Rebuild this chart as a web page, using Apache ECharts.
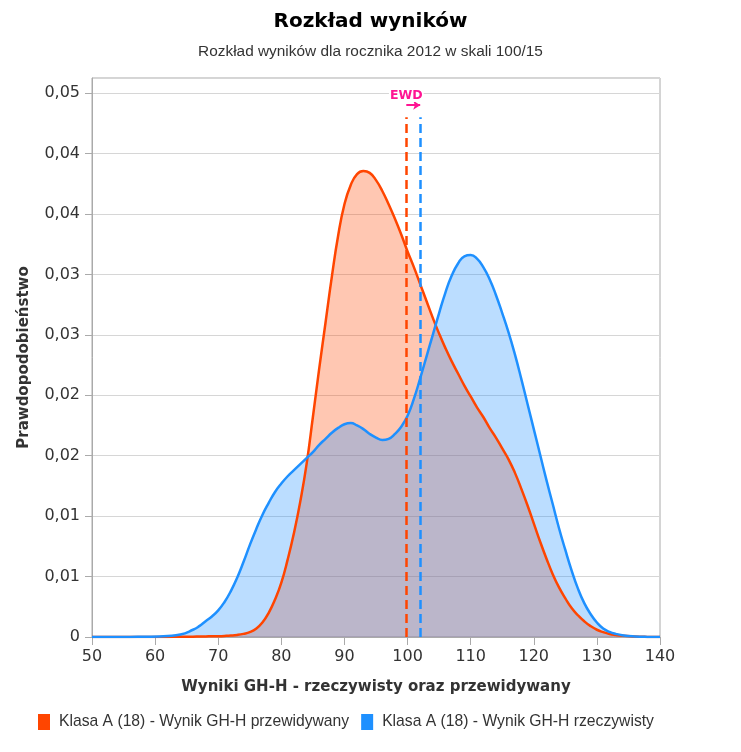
<!DOCTYPE html>
<html>
<head>
<meta charset="utf-8">
<script src="https://cdn.jsdelivr.net/npm/echarts@6/dist/echarts.min.js"></script>
<style>
html,body{margin:0;padding:0;background:#fff;}
#chart{width:741px;height:752px;}
</style>
</head>
<body>
<div id="chart"></div>
<script>
const scores = [50,53,56,59,62,64,66,67,68,69,70,71,72,73,74,75,76,77,78,79,80,81,82,83,84,85,86,87,88,89,90,91,92,93,94,95,96,97,98,99,100,101,102,103,104,105,106,107,108,109,110,111,112,113,114,115,116,117,118,119,120,121,122,123,124,125,126,127,128,129,130,131,132,133,134,136,138,140];
const predicted = [0,0,0,0,0.00001,0.00002,0.00003,0.00004,0.00005,0.00006,0.00007,0.00009,0.00012,0.00017,0.00026,0.0004,0.00068,0.0012,0.0020,0.0031,0.0045,0.0064,0.0086,0.0112,0.0143,0.0182,0.0222,0.0260,0.0298,0.0332,0.0358,0.0374,0.0383,0.03855,0.0384,0.0378,0.0369,0.0358,0.0346,0.0333,0.0319,0.0306,0.0292,0.0278,0.0264,0.0251,0.0239,0.0228,0.0218,0.0208,0.0199,0.0190,0.0182,0.0173,0.0165,0.0156,0.0147,0.0136,0.0123,0.0109,0.0094,0.0079,0.0065,0.0052,0.0041,0.0032,0.0024,0.0018,0.0013,0.0009,0.0006,0.0004,0.00025,0.00016,0.0001,0.00004,0.00001,0];
const actual = [0,0,0.00001,0.00002,0.00008,0.0002,0.0006,0.0009,0.0013,0.0017,0.0022,0.0029,0.0038,0.0049,0.0062,0.0076,0.0089,0.0101,0.0111,0.0120,0.0127,0.0133,0.0138,0.0143,0.0148,0.0153,0.0159,0.0164,0.0169,0.0173,0.0176,0.0177,0.0175,0.0172,0.0168,0.0165,0.0163,0.0164,0.0168,0.0174,0.0183,0.0197,0.0214,0.0232,0.0250,0.0268,0.0285,0.0299,0.0309,0.0315,0.0316,0.0313,0.0306,0.0296,0.0283,0.0268,0.0252,0.0234,0.0214,0.0193,0.0172,0.0151,0.0130,0.0110,0.0090,0.0072,0.0055,0.0040,0.0028,0.0019,0.0012,0.0007,0.00043,0.00026,0.00015,0.00005,0.00001,0];
const ewdPredicted = 99.8;
const ewdActual = 102.0;
const seriesNames = ['Klasa A (18) - Wynik GH-H przewidywany', 'Klasa A (18) - Wynik GH-H rzeczywisty'];
const colors = ['#FF4500', '#1E90FF'];

const predPairs = scores.map((x, i) => [x, predicted[i]]);
const actPairs = scores.map((x, i) => [x, actual[i]]);
const SMOOTH = 0.5;
const yMax = 0.04625;
const ewdLabelY = 0.0448;
const ewdArrowY = 0.0440;
const ewdLineTop = 0.0430;

const chart = echarts.init(document.getElementById('chart'), null, {renderer: 'canvas'});
chart.setOption({
  animation: false,
  title: [{
    text: 'Rozkład wyników',
    left: 'center',
    top: 7,
    textStyle: {fontFamily: 'DejaVu Sans', fontWeight: 'bold', fontSize: 20, color: '#000'}
  }, {
    text: 'Rozkład wyników dla rocznika 2012 w skali 100/15',
    left: 'center',
    top: 39,
    textStyle: {fontFamily: 'Liberation Sans', fontWeight: 'normal', fontSize: 15.4, color: '#333'}
  }],
  legend: {
    left: 38,
    top: 714,
    padding: 0,
    icon: 'rect',
    itemWidth: 12,
    itemHeight: 16,
    itemGap: 12,
    data: seriesNames,
    textStyle: {fontFamily: 'Liberation Sans', fontSize: 15.7, color: '#333', padding: [0, 0, 0, 4]}
  },
  grid: {left: 92, right: 81, top: 78, bottom: 115, show: true, borderColor: '#aaa', borderWidth: 1},
  xAxis: {
    type: 'value', min: 50, max: 140, interval: 10,
    name: 'Wyniki GH-H - rzeczywisty oraz przewidywany',
    nameLocation: 'middle', nameGap: 43,
    nameTextStyle: {fontFamily: 'DejaVu Sans', fontWeight: 'bold', fontSize: 15, color: '#333'},
    axisLine: {show: true, lineStyle: {color: '#aaa'}},
    axisTick: {show: true, length: 8, lineStyle: {color: '#aaa'}},
    axisLabel: {fontFamily: 'DejaVu Sans', fontSize: 16, color: '#333', margin: 12},
    splitLine: {show: false}
  },
  yAxis: {
    type: 'value', min: 0, max: yMax, interval: 0.005,
    name: 'Prawdopodobieństwo',
    nameLocation: 'middle', nameGap: 60,
    nameTextStyle: {fontFamily: 'DejaVu Sans', fontWeight: 'bold', fontSize: 15, color: '#333'},
    axisLine: {show: true, lineStyle: {color: '#aaa'}},
    axisTick: {show: true, length: 7, lineStyle: {color: '#aaa'}},
    axisLabel: {
      fontFamily: 'DejaVu Sans', fontSize: 16, color: '#333', margin: 12, showMaxLabel: false,
      formatter: v => v === 0 ? '0' : (Math.round(v * 100) / 100).toFixed(2).replace('.', ',')
    },
    splitLine: {show: true, lineStyle: {color: '#d6d6d6'}}
  },
  series: [
    {
      type: 'line', name: 'predArea', data: predPairs, smooth: SMOOTH, showSymbol: false, silent: true,
      lineStyle: {width: 0}, itemStyle: {color: colors[0]},
      areaStyle: {color: colors[0], opacity: 0.3}, z: 1
    },
    {
      type: 'line', name: 'actArea', data: actPairs, smooth: SMOOTH, showSymbol: false, silent: true,
      lineStyle: {width: 0}, itemStyle: {color: colors[1]},
      areaStyle: {color: colors[1], opacity: 0.3}, z: 2
    },
    {
      type: 'line', name: seriesNames[0], data: predPairs, smooth: SMOOTH, showSymbol: false,
      lineStyle: {width: 2.5, color: colors[0]}, itemStyle: {color: colors[0]}, z: 3,
      markLine: {
        silent: true, symbol: ['none', 'none'], label: {show: false},
        lineStyle: {type: [9, 5], width: 2.5, color: colors[0]},
        data: [[{coord: [ewdPredicted, 0]}, {coord: [ewdPredicted, ewdLineTop]}]]
      }
    },
    {
      type: 'line', name: seriesNames[1], data: actPairs, smooth: SMOOTH, showSymbol: false,
      lineStyle: {width: 2.5, color: colors[1]}, itemStyle: {color: colors[1]}, z: 4,
      markLine: {
        silent: true, symbol: ['none', 'none'], label: {show: false},
        lineStyle: {type: [9, 5], width: 2.5, color: colors[1]},
        data: [[{coord: [ewdActual, 0]}, {coord: [ewdActual, ewdLineTop]}]]
      }
    },
    {
      type: 'line', name: 'ewd', data: [], z: 5, silent: true,
      markLine: {
        silent: true, symbol: ['none', 'arrow'], symbolSize: 7, label: {show: false},
        lineStyle: {type: 'solid', width: 2, color: '#FF1493'},
        data: [[{coord: [ewdPredicted, ewdArrowY]}, {coord: [ewdActual, ewdArrowY]}]]
      },
      markPoint: {
        silent: true, symbol: 'circle', symbolSize: 0,
        label: {show: true, formatter: 'EWD', color: '#FF1493', fontFamily: 'DejaVu Sans', fontWeight: 'bold', fontSize: 12.5, position: 'inside',
          backgroundColor: '#fff', padding: [0, 1]},
        data: [{coord: [ewdPredicted, ewdLabelY]}]
      }
    }
  ]
});
</script>
</body>
</html>
